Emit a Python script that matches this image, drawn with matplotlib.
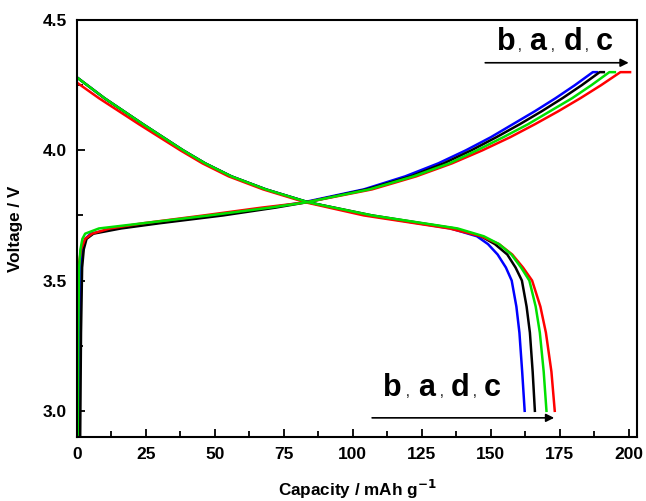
import numpy as np
import matplotlib
matplotlib.use("Agg")
import matplotlib.pyplot as plt

plt.rcParams['font.family'] = ['Liberation Sans', 'DejaVu Sans']
plt.rcParams['font.weight'] = 'bold'

# charge curves: capacity read at these voltages
v_chg = [2.90, 3.30, 3.55, 3.62, 3.66, 3.68, 3.70, 3.72, 3.75, 3.78, 3.80,
         3.85, 3.90, 3.95, 4.00, 4.05, 4.10, 4.15, 4.20, 4.25, 4.30, 4.30]
chg_b = [0.6, 0.9, 1.3, 2.0, 3.0, 5, 14, 28, 50, 70, 82,
         104, 119, 131, 141, 150, 158, 166, 173.5, 180.5, 187, 188.5]
chg_a = [1.2, 1.5, 1.9, 2.5, 3.5, 6, 16, 30, 53, 72, 83,
         105, 121, 133, 143, 152, 160.5, 168.5, 176, 183, 189.5, 191]
chg_d = [0.3, 0.5, 0.8, 1.3, 2.0, 3, 8, 24, 48, 70, 83,
         106, 122, 135, 145, 154.5, 163.5, 171.5, 179.5, 186.5, 193, 195]
chg_c = [0.0, 0.2, 0.6, 1.5, 3.0, 5.5, 12, 24, 46, 67, 83,
         107, 123, 136, 147, 157, 166, 174.5, 182.5, 190, 197, 200.5]

# discharge curves
v_dis = [4.28, 4.20, 4.10, 4.00, 3.95, 3.90, 3.85, 3.80, 3.75, 3.70, 3.67,
         3.64, 3.60, 3.55, 3.50, 3.40, 3.30, 3.15, 3.00]
v_dis_c = [4.26, 4.20, 4.10, 4.00, 3.95, 3.90, 3.85, 3.80, 3.75, 3.70, 3.67,
           3.64, 3.60, 3.55, 3.50, 3.40, 3.30, 3.15, 3.00]
dis_b = [0, 10, 24, 38.5, 46.5, 56, 68.5, 84, 106, 135.5, 145, 149, 152.5, 155.5, 157.6, 159.3, 160.4, 161.4, 162.3]
dis_a = [0, 10, 24, 38.5, 46.5, 56, 68.5, 84, 107, 137, 146.5, 151.5, 156, 159, 161.3, 163, 164.2, 165.2, 166]
dis_d = [0, 10, 24, 38.5, 46.5, 56, 68.5, 84, 107, 138, 147.5, 153, 157.5, 161, 164, 166.3, 167.8, 169.2, 170.2]
dis_c = [0, 8, 22.5, 37.5, 45.5, 55, 67.5, 83, 104, 135, 146.5, 153, 157.8, 161.7, 165, 168, 170, 172, 173.2]

colors = {'b': '#0000ff', 'a': '#000000', 'c': '#ff0000', 'd': '#00e000'}

fig = plt.figure(figsize=(6.46, 5.01), dpi=100)
ax = fig.add_axes([0.119, 0.128, 0.867, 0.832])

ax.plot(chg_b, v_chg, color=colors['b'], lw=1.8)
ax.plot(dis_b, v_dis, color=colors['b'], lw=1.8)
ax.plot(chg_a, v_chg, color=colors['a'], lw=1.8)
ax.plot(dis_a, v_dis, color=colors['a'], lw=1.8)
ax.plot(chg_c, v_chg, color=colors['c'], lw=1.8)
ax.plot(dis_c, v_dis_c, color=colors['c'], lw=1.8)
ax.plot(chg_d, v_chg, color=colors['d'], lw=1.8)
ax.plot(dis_d, v_dis, color=colors['d'], lw=1.8)

ax.set_xlim(0, 203)
ax.set_ylim(2.9, 4.5)
ax.set_xticks(np.arange(0, 201, 25))
ax.set_xticks(np.arange(12.5, 200, 25), minor=True)
ax.set_yticks([3.0, 3.5, 4.0, 4.5])
ax.set_yticks([3.25, 3.75, 4.25], minor=True)
ax.set_yticklabels(['3.0', '3.5', '4.0', '4.5'])
ax.tick_params(which='both', direction='in', top=False, right=False, labelsize=12.5, width=1.3, pad=7)
ax.tick_params(which='major', length=6)
ax.tick_params(which='minor', length=4)
for sp in ax.spines.values():
    sp.set_linewidth(1.5)

ax.set_xlabel('Capacity / mAh g$^{\\mathbf{-1}}$', fontsize=12.3, fontweight='bold', labelpad=12)
ax.set_ylabel('Voltage / V', fontsize=12.3, fontweight='bold', labelpad=14)

# order labels with arrows
letters = ['b', 'a', 'd', 'c']
top_x = [155.8, 167.0, 179.7, 191.3]
top_comma = [160.5, 172.5, 184.8]
bot_x = [114.5, 126.8, 138.8, 150.4]
bot_comma = [119.9, 132.2, 144.2]

for xs, cs, yb in [(top_x, top_comma, 4.385), (bot_x, bot_comma, 3.058)]:
    for lx, lt in zip(xs, letters):
        ax.text(lx, yb, lt, fontsize=22, fontweight='bold', ha='center', va='baseline')
    for cx in cs:
        ax.text(cx, yb, ',', fontsize=10, fontweight='normal', ha='center', va='baseline')

ax.annotate('', xy=(201, 4.336), xytext=(147, 4.336),
            arrowprops=dict(arrowstyle='-|>', color='black', lw=1.2, mutation_scale=12))
ax.annotate('', xy=(174, 2.973), xytext=(106, 2.973),
            arrowprops=dict(arrowstyle='-|>', color='black', lw=1.2, mutation_scale=12))

fig.savefig('out.png', dpi=100)
plt.close(fig)
